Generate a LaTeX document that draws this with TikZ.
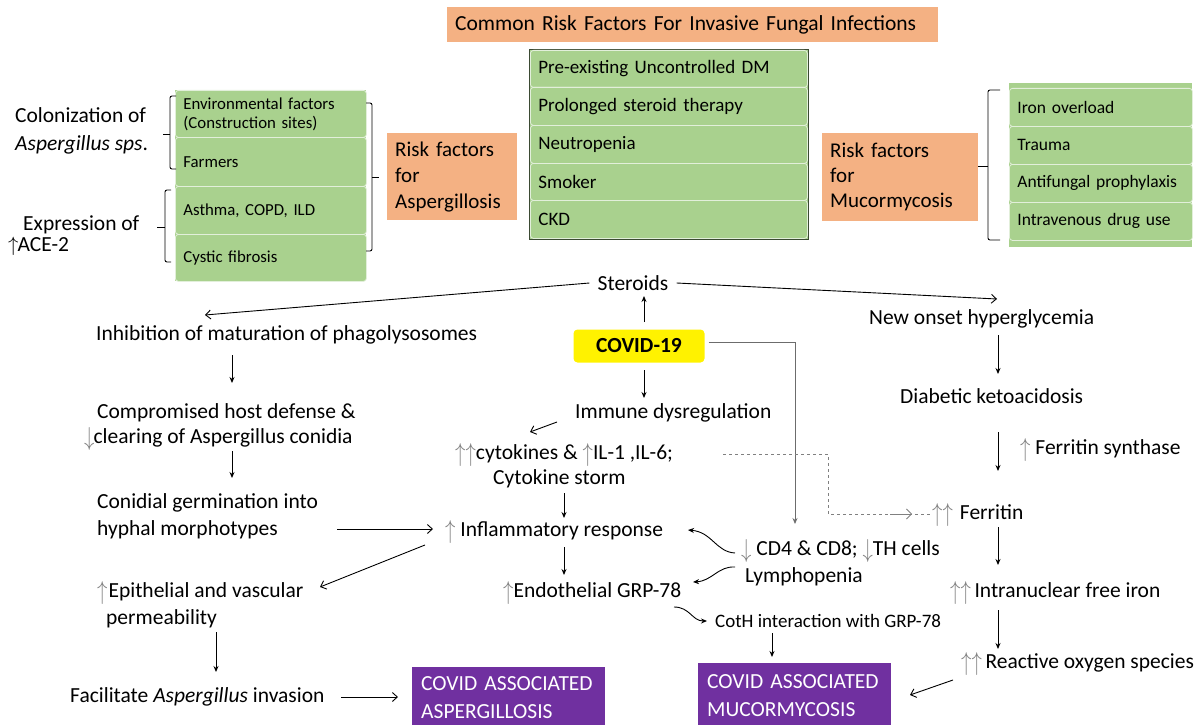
\documentclass[tikz,border=0pt]{standalone}
\usepackage{fontspec}
\setmainfont{Carlito}
\usetikzlibrary{arrows.meta,calc}
\definecolor{grn}{HTML}{A9D18E}
\definecolor{grnline}{HTML}{E2EFDA}
\definecolor{org}{HTML}{F4B183}
\definecolor{pur}{HTML}{7030A0}
\definecolor{darkb}{HTML}{3B4A33}
\newcommand\UA{{\color{gray}\raisebox{-1.5pt}{\scalebox{1}[1.25]{$\uparrow$}}}}
\newcommand\DA{{\color{gray}\raisebox{-1.5pt}{\scalebox{1}[1.25]{$\downarrow$}}}}
\begin{document}
\begin{tikzpicture}[x=1pt,y=-1pt,
  ft/.style={font=\fontsize{21.5}{27}\selectfont, inner sep=0pt, anchor=west, align=left},
  rowbox/.style={draw=grnline, fill=grn, rounded corners=3pt, line width=0.8pt, inner xsep=8pt, inner ysep=0pt, align=left, anchor=north west},
  orbox/.style={fill=org, inner xsep=8pt, inner ysep=0pt, align=left, anchor=north west},
  purbox/.style={fill=pur, text=white, inner xsep=9pt, inner ysep=0pt, align=left, anchor=north west, font=\fontsize{21.5}{28}\selectfont},
  arr/.style={-{Stealth[length=6pt,width=5pt]}, line width=0.9pt},
  barb/.style={-{Straight Barb[length=5pt,width=9pt]}, line width=0.9pt},
  brace/.style={line width=0.9pt, rounded corners=2pt}
]
\useasboundingbox (0,0) rectangle (1203,725);

% ---------- title ----------
\node[orbox, minimum width=491, minimum height=35, text width=475, font=\fontsize{21.5}{25}\selectfont] (title) at (447,7) {Common Risk Factors For Invasive Fungal Infections};

% ---------- middle common risk box ----------
\draw[draw=darkb, fill=grn, line width=1pt] (529,50) rectangle (808,239);
\begin{scope}[every node/.style={rowbox, minimum width=277, text width=261, font=\fontsize{19}{22}\selectfont}]
\node[minimum height=37] (m1) at (530,50) {Pre-existing Uncontrolled DM};
\node[minimum height=38] (m2) at (530,87) {Prolonged steroid therapy};
\node[minimum height=38] (m3) at (530,125) {Neutropenia};
\node[minimum height=37] (m4) at (530,163) {Smoker};
\node[minimum height=38] (m5) at (530,200) {CKD};
\end{scope}

% ---------- left stack ----------
\fill[grn] (175,90) rectangle (366,281);
\begin{scope}[every node/.style={rowbox, minimum width=191, text width=175, font=\fontsize{16.8}{19}\selectfont}]
\node[minimum height=47] (l1) at (175,90) {Environmental factors\\(Construction sites)};
\node[minimum height=49] (l2) at (175,137) {Farmers};
\node[minimum height=48] (l3) at (175,186) {Asthma, COPD, ILD};
\node[minimum height=47] (l4) at (175,234) {Cystic fibrosis};
\end{scope}

\node[ft, font=\fontsize{21.5}{28}\selectfont] (colon) at (15,131) {Colonization of\\\textit{Aspergillus sps}.};
\node[ft] (expr) at (23,225) {Expression of};
\node[ft] (ace) at (8,246) {$\uparrow$\kern-1ptACE-2};

% braces left
\draw[brace] (176,96) -- (170,96) -- (170,169) -- (176,169);
\draw[line width=0.9pt] (170,134) -- (163,134);
\draw[brace] (171,190) -- (165,190) -- (165,262) -- (171,262);
\draw[line width=0.9pt] (165,227) -- (157,227);
\draw[brace] (366,103) -- (372,103) -- (372,251) -- (366,251);
\draw[line width=0.9pt] (372,177) -- (379,177);

\node[orbox, minimum width=130, minimum height=87, text width=114, font=\fontsize{21}{26}\selectfont] (rasp) at (387,133) {Risk factors\\for\\Aspergillosis};

% ---------- right side ----------
\node[orbox, minimum width=156, minimum height=88, text width=140, font=\fontsize{21}{25}\selectfont] (rmuc) at (822,133) {Risk factors\\for\\Mucormycosis};
\draw[brace] (1000,90) -- (988,90) -- (988,240) -- (1000,240);
\draw[line width=0.9pt] (988,166) -- (978,166);

\fill[grn] (1009,83) rectangle (1192,247);
\begin{scope}[every node/.style={rowbox, minimum width=183, minimum height=38, text width=167, font=\fontsize{17.5}{20}\selectfont}]
\node (r1) at (1009,88) {Iron overload};
\node (r2) at (1009,126) {Trauma};
\node (r3) at (1009,164) {Antifungal prophylaxis};
\node (r4) at (1009,202) {Intravenous drug use};
\end{scope}

% ---------- flow ----------
\node[ft, anchor=center] (steroids) at (633,283) {Steroids};
\node[fill=yellow, rounded corners=4pt, minimum width=131, minimum height=33, inner sep=0pt, font=\bfseries\fontsize{21.5}{25}\selectfont] (covid) at (639,346) {COVID-19};

\node[ft] (inhib) at (96,335) {Inhibition of maturation of phagolysosomes};
\node[ft] (comp1) at (97,413) {Compromised host defense \&};
\node[ft] (comp2) at (84,439) {\DA\kern-1pt clearing of Aspergillus conidia};
\node[ft] (conid) at (97,516) {Conidial germination into\\hyphal morphotypes};
\node[ft] (epi1) at (97,593) {\UA\kern1pt Epithelial and vascular};
\node[ft] (epi2) at (106,619) {permeability};
\node[ft] (facil) at (70,697) {Facilitate \textit{Aspergillus} invasion};

\node[ft] (immune) at (575,413) {Immune dysregulation};
\node[ft] (cyto1) at (455,455) {\UA\UA cytokines \& \UA IL-1 ,IL-6;};
\node[ft] (cyto2) at (493,479) {Cytokine storm};
\node[ft] (inflam) at (445,532) {\UA\ Inflammatory response};
\node[ft] (endo) at (503,593) {\UA Endothelial GRP-78};
\node[ft] (cd4) at (741,551) {\DA\ CD4 \& CD8; \DA TH cells};
\node[ft] (lympho) at (745,577) {Lymphopenia};
\node[ft, font=\fontsize{19}{22}\selectfont] (coth) at (715,621) {CotH interaction with GRP-78};

\node[ft] (newon) at (869,319) {New onset hyperglycemia};
\node[ft] (dka) at (900,396) {Diabetic ketoacidosis};
\node[ft] (fsyn) at (1020,450) {\UA\ Ferritin synthase};
\node[ft] (ferr) at (932,515) {\UA\UA\hspace{7pt}Ferritin};
\node[ft] (iron) at (950,593) {\UA\UA\,Intranuclear free iron};
\node[ft] (ros) at (961,664) {\UA\UA\,Reactive oxygen species};

\node[purbox, minimum width=193, minimum height=60, text width=175] (asp) at (412,667) {COVID ASSOCIATED\\ASPERGILLOSIS};
\node[purbox, minimum width=193, minimum height=64, text width=175] (muc) at (698,663) {COVID ASSOCIATED\\MUCORMYCOSIS};

% ---------- connectors ----------
\draw[barb] (steroids.west) ++(-8,0) -- (205,315);
\draw[barb] (steroids.east) ++(8,0) -- (997,299);
\draw[arr] (644,322) -- (644,296);
\draw[arr] (644,370) -- (644,398);
\draw[arr, draw=gray!85!black, line width=0.8pt] (covid.east) ++(4,-4) -- (795,342) -- (795,524);

\draw[arr] (232,355) -- (232,383);
\draw[arr] (232,451) -- (232,478);
\draw[barb] (337,529) -- (433,529);
\draw[barb] (425,545) -- (320,587);
\draw[arr] (216,632) -- (216,672);
\draw[barb] (341,697) -- (398,697);

\draw[barb] (557,422) -- (530,432);
\draw[arr] (564,493) -- (564,518);
\draw[arr] (564,547) -- (564,575);
\draw[dashed, draw=gray, line width=0.8pt] (723,454) -- (828,454) -- (828,514) -- (932,514);
\draw[draw=gray, line width=0.8pt, -{Straight Barb[length=5pt,width=10pt]}] (890,514) -- (912,514);

\draw[arr] (735,553) .. controls (716,552) and (712,532) .. (688,530);
\draw[arr] (735,567) .. controls (718,566) and (712,581) .. (693,582);
\draw[arr] (674,607) .. controls (690,607) and (692,621) .. (707,621);
\draw[arr] (772,633) -- (772,657);
\draw[barb] (953,680) -- (910,695);

\draw[arr] (998,335) -- (998,374);
\draw[arr] (998,432) -- (998,471);
\draw[arr] (998,527) -- (998,565);
\draw[arr] (998,610) -- (998,649);
\end{tikzpicture}
\end{document}
